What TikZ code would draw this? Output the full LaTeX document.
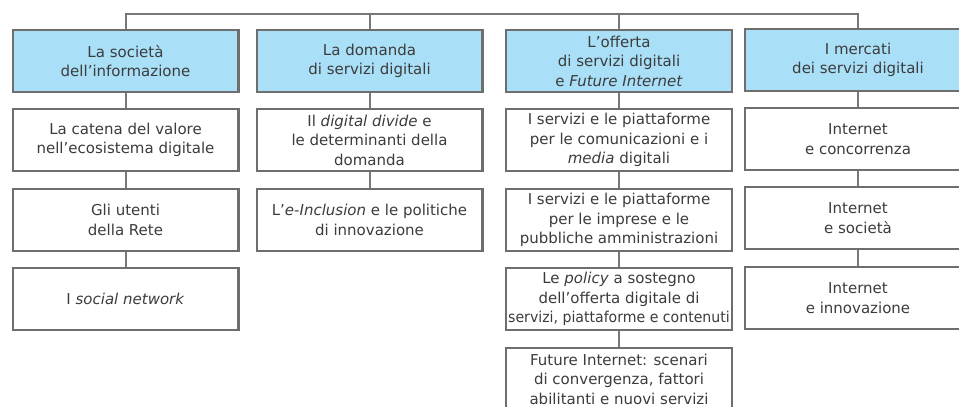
\documentclass[tikz,border=0pt]{standalone}
\usepackage{fontspec}
\setmainfont{DejaVu Sans}
\usepackage{graphicx}
\definecolor{boxblue}{HTML}{A9DFF7}
\definecolor{edgegray}{HTML}{6E6E6E}
\definecolor{linkgray}{HTML}{787878}
\definecolor{txt}{HTML}{3C3C3C}
\begin{document}
\begin{tikzpicture}[x=1pt,y=-1pt,
  box/.style={draw=edgegray, line width=2.4pt, fill=white,
    minimum width=225.6pt, minimum height=61.6pt, inner sep=0pt,
    align=center, text=txt, font=\fontsize{15}{19.5}\selectfont},
  head/.style={box, fill=boxblue},
  link/.style={draw=linkgray, line width=2pt}]
\useasboundingbox (0,0) rectangle (959,407);
\clip (0,0) rectangle (959,407);
% heads
\node[head] (h1) at (125.5,61) {La società\\dell’informazione};
\node[head] (h2) at (369.5,61) {La domanda\\di servizi digitali};
\node[head] (h3) at (619,61) {L’offerta\\di servizi digitali\\e \textit{Future Internet}};
\node[head] (h4) at (858,60) {I mercati\\dei servizi digitali};
% column 1
\node[box] (a2) at (125.5,140) {La catena del valore\\nell’ecosistema digitale};
\node[box] (a3) at (125.5,220) {Gli utenti\\della Rete};
\node[box] (a4) at (125.5,299) {I \textit{social network}};
% column 2
\node[box] (b2) at (369.5,140) {Il \textit{digital divide} e\\le determinanti della\\domanda};
\node[box] (b3) at (369.5,220) {L’\textit{e-Inclusion} e le politiche\\di innovazione};
% column 3
\node[box] (c2) at (619,140) {I servizi e le piattaforme\\per le comunicazioni e i\\\textit{media} digitali};
\node[box] (c3) at (619,220) {I servizi e le piattaforme\\per le imprese e le\\pubbliche amministrazioni};
\node[box] (c4) at (619,299) {Le \textit{policy} a sostegno\\dell’offerta digitale di\\\scalebox{0.94}[1]{servizi, piattaforme e contenuti}};
\node[box] (c5) at (619,379) {Future Internet: scenari\\di convergenza, fattori\\abilitanti e nuovi servizi};
% column 4
\node[box] (d2) at (858,139) {Internet\\e concorrenza};
\node[box] (d3) at (858,218) {Internet\\e società};
\node[box] (d4) at (858,298) {Internet\\e innovazione};
% bus
\coordinate (bus) at (0,14);
\draw[link] (h1.north) -- (h1.north |- bus) -| (h4.north);
\draw[link] (h2.north) -- (h2.north |- bus);
\draw[link] (h3.north) -- (h3.north |- bus);
% vertical links
\draw[link] (h1.south) -- (a2.north);
\draw[link] (a2.south) -- (a3.north);
\draw[link] (a3.south) -- (a4.north);
\draw[link] (h2.south) -- (b2.north);
\draw[link] (b2.south) -- (b3.north);
\draw[link] (h3.south) -- (c2.north);
\draw[link] (c2.south) -- (c3.north);
\draw[link] (c3.south) -- (c4.north);
\draw[link] (c4.south) -- (c5.north);
\draw[link] (h4.south) -- (d2.north);
\draw[link] (d2.south) -- (d3.north);
\draw[link] (d3.south) -- (d4.north);
\end{tikzpicture}
\end{document}
